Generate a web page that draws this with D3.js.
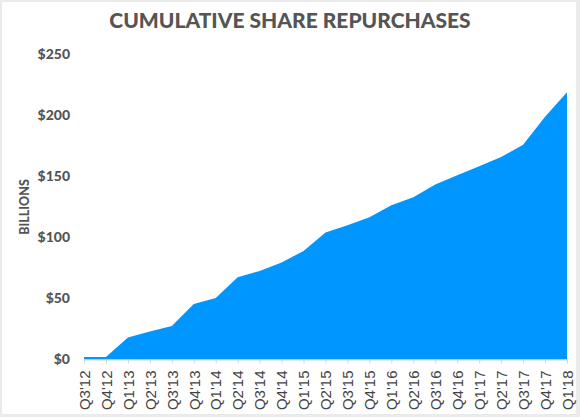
<!DOCTYPE html>
<html>
<head>
<meta charset="utf-8">
<script src="https://cdn.jsdelivr.net/npm/d3@7"></script>
<style>
  html, body { margin: 0; padding: 0; background: #ebebeb; }
  svg { display: block; }
</style>
</head>
<body>
<div id="chart"></div>
<script>
// quarters on the x axis
var quarters = ["Q3'12","Q4'12","Q1'13","Q2'13","Q3'13","Q4'13","Q1'14","Q2'14","Q3'14","Q4'14",
  "Q1'15","Q2'15","Q3'15","Q4'15","Q1'16","Q2'16","Q3'16","Q4'16","Q1'17","Q2'17","Q3'17","Q4'17","Q1'18"];
// cumulative buybacks, $ billions
var repurchases = [2, 2, 18, 23, 27.5, 45.5, 50.5, 67.5, 72.5, 79.5,
  89, 104, 110, 116.5, 126.5, 133, 143.5, 151, 158.5, 166, 176, 199, 219];
var yTicks = [0, 50, 100, 150, 200, 250];

var width = 580, height = 417;
var margin = {top: 54.5, right: 13, bottom: 57.5, left: 84};

var svg = d3.select("#chart").append("svg")
  .attr("width", width).attr("height", height);

// light grey frame around the picture
svg.append("rect").attr("width", width).attr("height", height).attr("fill", "#ebebeb");
svg.append("rect").attr("x", 2).attr("y", 2).attr("width", width - 6).attr("height", height - 5)
  .attr("fill", "#fff");

var x = d3.scalePoint().domain(quarters).range([margin.left, width - margin.right]);
var y = d3.scaleLinear().domain([0, 250]).range([height - margin.bottom, margin.top]);

svg.append("text")
  .attr("x", 290).attr("y", 28)
  .attr("text-anchor", "middle")
  .attr("font-family", "Lato")
  .attr("font-weight", 900)
  .attr("font-size", 21)
  .attr("fill", "#555")
  .text("CUMULATIVE SHARE REPURCHASES");

var area = d3.area()
  .x(function(d, i){ return x(quarters[i]); })
  .y0(y(0))
  .y1(function(d){ return y(d); });

svg.append("path")
  .datum(repurchases)
  .attr("d", area)
  .attr("fill", "#0096ff");

// y labels, no axis line
svg.selectAll(".ylab")
  .data(yTicks)
  .enter()
  .append("text")
  .attr("class", "ylab")
  .attr("x", 70)
  .attr("y", function(d){ return y(d); })
  .attr("dy", "0.35em")
  .attr("text-anchor", "end")
  .attr("font-family", "Lato")
  .attr("font-weight", 900)
  .attr("font-size", 14)
  .attr("fill", "#555")
  .text(function(d){ return "$" + d; });

svg.append("text")
  .attr("transform", "translate(29,207) rotate(-90)")
  .attr("text-anchor", "middle")
  .attr("font-family", "Lato")
  .attr("font-weight", 900)
  .attr("font-size", 12.5)
  .attr("fill", "#555")
  .text("BILLIONS");

var xAxis = svg.append("g")
  .attr("transform", "translate(0," + y(0) + ")")
  .call(d3.axisBottom(x).tickSize(4).tickSizeOuter(0));

xAxis.select(".domain").attr("stroke", "#d4d4d4");
xAxis.selectAll(".tick line").attr("stroke", "#d4d4d4");
xAxis.selectAll(".tick text")
  .attr("font-family", "Liberation Sans")
  .attr("font-size", 15)
  .attr("fill", "#444")
  .attr("text-anchor", "end")
  .attr("transform", "rotate(-90)")
  .attr("x", -11)
  .attr("y", 0)
  .attr("dy", "0.35em");
</script>
</body>
</html>
